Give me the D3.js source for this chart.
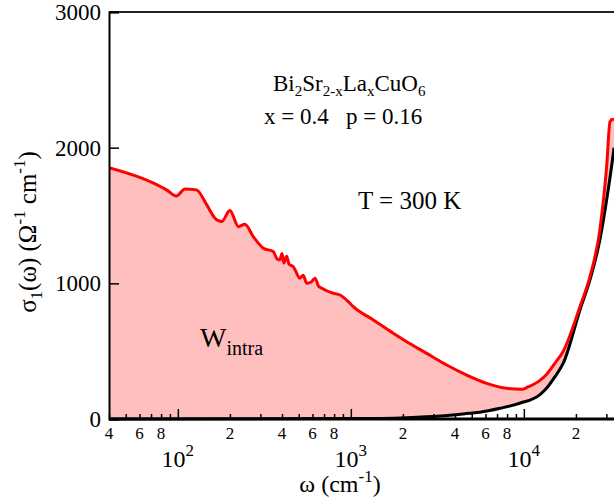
<!DOCTYPE html>
<html>
<head>
<meta charset="utf-8">
<script src="https://cdn.jsdelivr.net/npm/d3@7"></script>
<style>
  body { margin: 0; background: #fff; }
  svg text { font-family: "Liberation Serif", "DejaVu Serif", serif; fill: #000; }
</style>
</head>
<body>
<div id="chart"></div>
<script>
// measured sigma_1 at 300 K (red)
var redFreq  = [40, 86, 98, 110, 128, 147, 164, 179, 200, 224, 244, 273, 312, 356, 375, 389, 400, 410, 425, 440,
                465, 480, 508, 530, 556, 590, 621, 650, 679, 792, 865, 967, 1033, 1349, 1758, 2103, 2743, 3580,
                4675, 6100, 7960, 9720, 10630, 12400, 13560, 15100, 16900, 21100, 24100, 27500, 30100, 31500, 32600, 33200];
var redSigma = [1853, 1689, 1644, 1696, 1689, 1578, 1480, 1455, 1536, 1418, 1436, 1344, 1259, 1234, 1180, 1173, 1220, 1150, 1200, 1140,
                1123, 1090, 1038, 1060, 1001, 1010, 1038, 980, 964, 927, 914, 865, 828, 730, 632, 570, 484, 398,
                324, 263, 226, 219, 238, 285, 330, 410, 500, 828, 1049, 1394, 1861, 2193, 2210, 2200];
// interband background (black)
var blackFreq  = [40, 1000, 2103, 3300, 4840, 5580, 7290, 9460, 12400, 13560, 15100, 16900, 21100, 24100, 27500, 30100, 32900, 33200];
var blackSigma = [0, 3, 10, 22, 42, 50, 79, 116, 180, 228, 310, 411, 804, 1025, 1320, 1615, 1959, 2000];

var yTicks = [0, 1000, 2000, 3000];
var xMajor = [100, 1000, 10000];
var xMinor = [40, 50, 60, 70, 80, 90, 200, 300, 400, 500, 600, 700, 800, 900,
              2000, 3000, 4000, 5000, 6000, 7000, 8000, 9000, 20000, 30000];
var xMinorLabels = [40, 60, 80, 200, 400, 600, 800, 2000, 4000, 6000, 8000, 20000];

var frame_width = 614, frame_height = 502,
    margin = {top: 12, right: 0, bottom: 83, left: 109},
    width = frame_width - margin.left - margin.right,
    height = frame_height - margin.top - margin.bottom,
    serif = "'Liberation Serif', 'DejaVu Serif', serif";

var svg = d3.select("#chart").append("svg")
    .attr("width", frame_width)
    .attr("height", frame_height)
    .style("font-family", serif);

svg.append("defs").append("clipPath").attr("id", "plotclip")
  .append("rect").attr("x", 0).attr("y", -2).attr("width", width).attr("height", height + 4);

var g = svg.append("g")
    .attr("transform", "translate(" + margin.left + "," + margin.top + ")");

var x = d3.scaleLog().domain([40, 33200]).range([0, width]);
var y = d3.scaleLinear().domain([0, 3000]).range([height, 0]);

var red = redFreq.map(function(f, i) { return [f, redSigma[i]]; });
var black = blackFreq.map(function(f, i) { return [f, blackSigma[i]]; });

var line = d3.line()
    .x(function(d) { return x(d[0]); })
    .y(function(d) { return y(d[1]); })
    .curve(d3.curveMonotoneX);

// spectral weight between the two curves
var back = line(black.slice().reverse());
var plot = g.append("g").attr("clip-path", "url(#plotclip)");
plot.append("path")
    .attr("d", line(red) + "L" + back.slice(1) + "Z")
    .attr("fill", "#ffbfbf")
    .attr("stroke", "none");

plot.append("path")
    .datum(black)
    .attr("fill", "none")
    .attr("stroke", "#000")
    .attr("stroke-width", 3)
    .attr("d", line);

plot.append("path")
    .datum(red)
    .attr("fill", "none")
    .attr("stroke", "#ff0000")
    .attr("stroke-width", 3)
    .attr("d", line);

// axes (ticks point inward)
var xAxisMinor = d3.axisBottom(x).tickValues(xMinor).tickSize(-5).tickFormat("");
var xAxisMajor = d3.axisBottom(x).tickValues(xMajor).tickSize(-10).tickFormat("");
[xAxisMinor, xAxisMajor].forEach(function(ax) {
  var a = g.append("g").attr("transform", "translate(0," + height + ")").call(ax);
  a.select(".domain").remove();
  a.selectAll(".tick line").attr("stroke", "#000").attr("stroke-width", 1.5);
});
g.append("line").attr("x1", 0).attr("x2", width).attr("y1", height).attr("y2", height)
    .attr("stroke", "#000").attr("stroke-width", 3);
g.append("line").attr("x1", 0).attr("x2", width).attr("y1", 0).attr("y2", 0)
    .attr("stroke", "#222").attr("stroke-width", 2);

var yAxis = g.append("g").call(d3.axisLeft(y).tickValues(yTicks).tickSize(-10).tickFormat(""));
yAxis.select(".domain").attr("stroke", "#000").attr("stroke-width", 2);
yAxis.selectAll(".tick line").attr("stroke", "#000").attr("stroke-width", 1.5);

// tick labels
g.selectAll(".ylab").data(yTicks).enter().append("text")
    .attr("x", -8).attr("y", function(d) { return y(d); })
    .attr("dy", "0.35em").attr("text-anchor", "end")
    .style("font-family", serif).style("font-size", "23px")
    .text(function(d) { return d; });

g.selectAll(".xminlab").data(xMinorLabels).enter().append("text")
    .attr("x", function(d) { return x(d); }).attr("y", height + 20)
    .attr("text-anchor", "middle").style("font-family", serif).style("font-size", "17px")
    .text(function(d) { return String(d)[0]; });

var maj = g.selectAll(".xmajlab").data(xMajor).enter().append("text")
    .attr("x", function(d) { return x(d); }).attr("y", height + 48)
    .attr("text-anchor", "middle").style("font-family", serif).style("font-size", "24px");
maj.append("tspan").text("10");
maj.append("tspan").attr("dy", -11).style("font-size", "17px")
    .text(function(d) { return Math.round(Math.log10(d)); });

// axis titles
var xt = svg.append("text").attr("x", 340).attr("y", 492).attr("text-anchor", "middle")
    .style("font-family", serif).style("font-size", "24px");
xt.append("tspan").text("\u03c9 (cm");
xt.append("tspan").attr("dy", -10).style("font-size", "17px").text("-1");
xt.append("tspan").attr("dy", 10).text(")");

var yt = svg.append("text").attr("transform", "translate(36,232) rotate(-90)")
    .attr("text-anchor", "middle").style("font-family", serif).style("font-size", "25px");
yt.append("tspan").text("\u03c3");
yt.append("tspan").attr("dy", 6).style("font-size", "17px").text("1");
yt.append("tspan").attr("dy", -6).text("(\u03c9) (\u03a9");
yt.append("tspan").attr("dy", -11).style("font-size", "17px").text("-1");
yt.append("tspan").attr("dy", 11).text(" cm");
yt.append("tspan").attr("dy", -11).style("font-size", "17px").text("-1");
yt.append("tspan").attr("dy", 11).text(")");

// annotations
var t1 = svg.append("text").attr("x", 273).attr("y", 91).style("font-family", serif).style("font-size", "23px");
t1.append("tspan").text("Bi");
t1.append("tspan").attr("dy", 5).style("font-size", "15px").text("2");
t1.append("tspan").attr("dy", -5).text("Sr");
t1.append("tspan").attr("dy", 5).style("font-size", "15px").text("2-x");
t1.append("tspan").attr("dy", -5).text("La");
t1.append("tspan").attr("dy", 5).style("font-size", "15px").text("x");
t1.append("tspan").attr("dy", -5).text("CuO");
t1.append("tspan").attr("dy", 5).style("font-size", "15px").text("6");

svg.append("text").attr("x", 264).attr("y", 124).style("font-family", serif).style("font-size", "23px")
    .text("x = 0.4\u00a0\u00a0\u00a0p = 0.16");

svg.append("text").attr("x", 358).attr("y", 209).style("font-family", serif).style("font-size", "25px").text("T = 300 K");

var w = svg.append("text").attr("x", 200).attr("y", 347).style("font-family", serif).style("font-size", "28px");
w.append("tspan").text("W");
w.append("tspan").attr("dy", 8).style("font-size", "20px").text("intra");
</script>
</body>
</html>
